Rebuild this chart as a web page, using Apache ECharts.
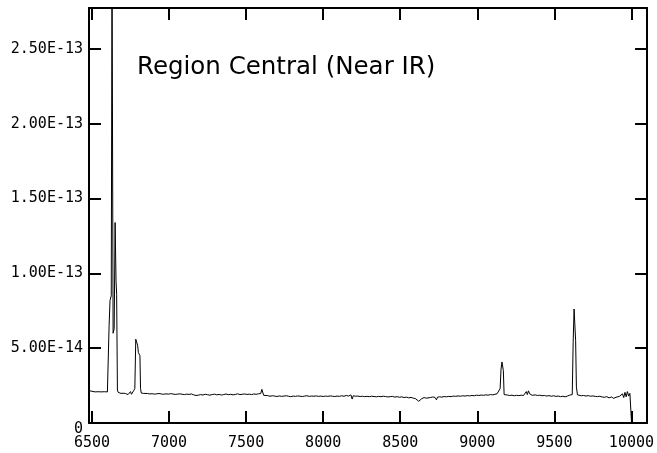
<!DOCTYPE html>
<html>
<head>
<meta charset="utf-8">
<script src="https://cdn.jsdelivr.net/npm/echarts@6/dist/echarts.min.js"></script>
<style>
html,body{margin:0;padding:0;background:#fff;}
#chart{width:657px;height:453px;}
</style>
</head>
<body>
<div id="chart"></div>
<script>
// Title
var chartTitle = 'Region Central (Near IR)';

// Axis ticks and labels
var xTicks = [6500, 7000, 7500, 8000, 8500, 9000, 9500, 10000];
var xTickLabels = ['6500', '7000', '7500', '8000', '8500', '9000', '9500', '10000'];
// flux values in units of 1e-14
var yTicks = [0, 5, 10, 15, 20, 25];
var yTickLabels = ['0', '5.00E-14', '1.00E-13', '1.50E-13', '2.00E-13', '2.50E-13'];

// Spectrum: wavelength (Angstrom)
var wavelength = [
 6487, 6495, 6500, 6510, 6520, 6530, 6540, 6550, 6560, 6570, 6580, 6590, 6600, 6605,
 6611, 6617, 6625, 6630, 6637, 6644, 6650, 6656, 6660, 6665, 6670,
 6675, 6682, 6688, 6694, 6702, 6710, 6718, 6726, 6734, 6742, 6750, 6756, 6762, 6770,
 6778, 6784, 6790, 6796, 6801, 6806, 6811, 6815, 6820, 6828,
 6835, 6845, 6860, 6875, 6890, 6905, 6920, 6935, 6950, 6965, 6980, 6995,
 7010, 7025, 7040, 7055, 7070, 7085, 7100, 7115, 7130, 7145, 7160, 7175, 7190,
 7205, 7220, 7235, 7250, 7265, 7280, 7295, 7310, 7325, 7340, 7355, 7370, 7385,
 7400, 7415, 7430, 7445, 7460, 7475, 7490, 7505, 7520, 7535, 7550, 7565, 7580, 7595,
 7602, 7608, 7614, 7625, 7640, 7655, 7670, 7685, 7700, 7715, 7730, 7745, 7760, 7775,
 7790, 7805, 7820, 7835, 7850, 7865, 7880, 7895, 7910, 7925, 7940, 7955, 7970, 7985,
 8000, 8015, 8030, 8045, 8060, 8075, 8090, 8105, 8120, 8135, 8150, 8165, 8180, 8188,
 8195, 8210, 8225, 8240, 8255, 8270, 8285, 8300, 8315, 8330, 8345, 8360, 8375, 8390,
 8405, 8420, 8435, 8450, 8465, 8480, 8495, 8510, 8525, 8540, 8555, 8570, 8585, 8600,
 8612, 8620, 8628, 8640, 8655, 8668, 8680, 8695, 8710, 8725, 8735, 8742, 8755, 8770,
 8785, 8800, 8815, 8830, 8845, 8860, 8875, 8890, 8905, 8920, 8935, 8950, 8965, 8980,
 8995, 9010, 9025, 9040, 9055, 9070, 9085, 9100, 9115, 9128, 9140, 9148, 9154, 9160,
 9165, 9169, 9174, 9182, 9195, 9210, 9225, 9240, 9255, 9270, 9285, 9300, 9310, 9318,
 9325, 9332, 9340, 9348, 9356, 9365, 9375, 9390, 9405, 9420, 9435, 9450, 9465, 9480,
 9495, 9510, 9525, 9540, 9555, 9570, 9585, 9598, 9606, 9616, 9622, 9628, 9633, 9638,
 9643, 9650, 9660, 9675, 9690, 9705, 9720, 9735, 9750, 9765, 9780, 9795, 9810, 9825,
 9840, 9855, 9870, 9885, 9900, 9912, 9922, 9932, 9942, 9950, 9958, 9966, 9974, 9982,
 9990, 9998, 10001
];
// Spectrum: flux (units of 1e-14)
var flux = [
 2.15, 2.05, 2.12, 2.10, 2.08, 2.10, 2.09, 2.11, 2.08, 2.10, 2.09, 2.10, 2.08, 2.12,
 6.5, 8.2, 8.5, 31.0, 6.0, 6.3, 13.4, 9.5, 8.6, 2.2, 2.05,
 2.00, 2.03, 1.98, 2.02, 1.99, 2.00, 1.97, 2.02, 1.90, 2.00, 2.10, 1.92, 1.95, 2.15,
 2.30, 5.60, 5.55, 5.20, 4.70, 4.60, 4.50, 2.30, 2.00, 1.96,
 1.98, 1.95, 1.97, 1.94, 1.96, 1.93, 1.95, 1.97, 1.94, 1.92, 1.95, 1.93,
 1.96, 1.94, 1.91, 1.93, 1.95, 1.92, 1.90, 1.93, 1.91, 1.94, 1.88, 1.84, 1.86,
 1.90, 1.87, 1.92, 1.89, 1.86, 1.90, 1.93, 1.88, 1.91, 1.87, 1.90, 1.94, 1.89,
 1.92, 1.88, 1.91, 1.95, 1.90, 1.92, 1.94, 1.91, 1.93, 1.90, 1.94, 1.92, 1.95, 1.97,
 2.25, 2.20, 1.85, 1.80, 1.83, 1.79, 1.82, 1.80, 1.77, 1.81, 1.78, 1.80, 1.82, 1.79,
 1.76, 1.80, 1.78, 1.81, 1.79, 1.77, 1.80, 1.82, 1.78, 1.80, 1.79, 1.81, 1.78, 1.80,
 1.77, 1.80, 1.78, 1.81, 1.79, 1.77, 1.80, 1.78, 1.82, 1.79, 1.84, 1.80, 1.88, 1.60,
 1.82, 1.79, 1.80, 1.77, 1.79, 1.76, 1.78, 1.76, 1.79, 1.77, 1.75, 1.78, 1.76, 1.79,
 1.77, 1.74, 1.76, 1.78, 1.73, 1.76, 1.72, 1.75, 1.70, 1.73, 1.68, 1.71, 1.66, 1.62,
 1.50, 1.45, 1.56, 1.63, 1.70, 1.66, 1.72, 1.70, 1.74, 1.71, 1.55, 1.73, 1.75, 1.73,
 1.77, 1.75, 1.78, 1.76, 1.80, 1.78, 1.81, 1.79, 1.82, 1.80, 1.83, 1.81, 1.84, 1.82,
 1.86, 1.84, 1.87, 1.85, 1.88, 1.86, 1.90, 1.88, 1.92, 1.95, 2.00, 2.30, 3.60, 4.08,
 4.00, 3.50, 1.90, 1.85, 1.87, 1.84, 1.86, 1.82, 1.85, 1.83, 1.86, 1.84, 1.95, 2.10,
 1.90, 2.15, 1.95, 2.05, 1.85, 1.95, 1.88, 1.84, 1.86, 1.82, 1.84, 1.80, 1.83, 1.79,
 1.82, 1.78, 1.80, 1.76, 1.79, 1.75, 1.80, 1.86, 1.78, 1.90, 5.40, 7.62, 7.55, 5.50,
 2.40, 1.88, 1.85, 1.82, 1.84, 1.80, 1.83, 1.79, 1.81, 1.78, 1.76, 1.79, 1.74, 1.72,
 1.76, 1.68, 1.74, 1.65, 1.72, 1.60, 1.78, 1.66, 1.95, 1.70, 2.05, 1.75, 2.10, 1.80,
 1.98, 1.90, 0
];

var X_MIN = 6480.6, X_MAX = 10101.4;
var Y_MIN = 0, Y_MAX = 27.74;

var points = wavelength.map(function (w, i) { return [w, flux[i]]; });

var chart = echarts.init(document.getElementById('chart'), null, {renderer: 'canvas'});
var axisLineStyle = {color: '#000', width: 2};
var tickStyle = {color: '#000', width: 2};
var labelFont = {color: '#000', fontFamily: 'DejaVu Sans Mono', fontSize: 15};

chart.setOption({
  animation: false,
  backgroundColor: '#fff',
  grid: {left: 89, right: 7, top: 8, bottom: 30, containLabel: false},
  graphic: [{
    type: 'text',
    left: 137,
    top: 55,
    style: {
      text: chartTitle,
      fill: '#000',
      font: '24.5px "DejaVu Sans"'
    }
  }],
  xAxis: [{
    type: 'value', min: X_MIN, max: X_MAX, position: 'bottom',
    axisLine: {show: true, onZero: false, lineStyle: axisLineStyle},
    axisTick: {show: true, inside: true, length: 12, lineStyle: tickStyle, customValues: xTicks},
    axisLabel: Object.assign({
      show: true, margin: 13, customValues: xTicks,
      formatter: function (v) { var k = xTicks.indexOf(v); return k >= 0 ? xTickLabels[k] : ''; }
    }, labelFont),
    splitLine: {show: false}
  }, {
    type: 'value', min: X_MIN, max: X_MAX, position: 'top',
    axisLine: {show: true, onZero: false, lineStyle: axisLineStyle},
    axisTick: {show: true, inside: true, length: 12, lineStyle: tickStyle, customValues: xTicks},
    axisLabel: {show: false},
    splitLine: {show: false}
  }],
  yAxis: [{
    type: 'value', min: Y_MIN, max: Y_MAX, position: 'left',
    axisLine: {show: true, onZero: false, lineStyle: axisLineStyle},
    axisTick: {show: true, inside: true, length: 12, lineStyle: tickStyle, customValues: yTicks.slice(1)},
    axisLabel: Object.assign({
      show: true, margin: 6, lineHeight: 12, customValues: yTicks,
      formatter: function (v) {
        var k = yTicks.indexOf(v);
        if (k < 0) return '';
        return k === 0 ? '\n' + yTickLabels[k] : yTickLabels[k];
      }
    }, labelFont),
    splitLine: {show: false}
  }, {
    type: 'value', min: Y_MIN, max: Y_MAX, position: 'right',
    axisLine: {show: true, onZero: false, lineStyle: axisLineStyle},
    axisTick: {show: true, inside: true, length: 12, lineStyle: tickStyle, customValues: yTicks.slice(1)},
    axisLabel: {show: false},
    splitLine: {show: false}
  }],
  series: [{
    type: 'line',
    xAxisIndex: 0, yAxisIndex: 0,
    data: points,
    showSymbol: false,
    symbol: 'none',
    clip: true,
    lineStyle: {color: '#000', width: 1},
    silent: true
  }]
});
</script>
</body>
</html>
